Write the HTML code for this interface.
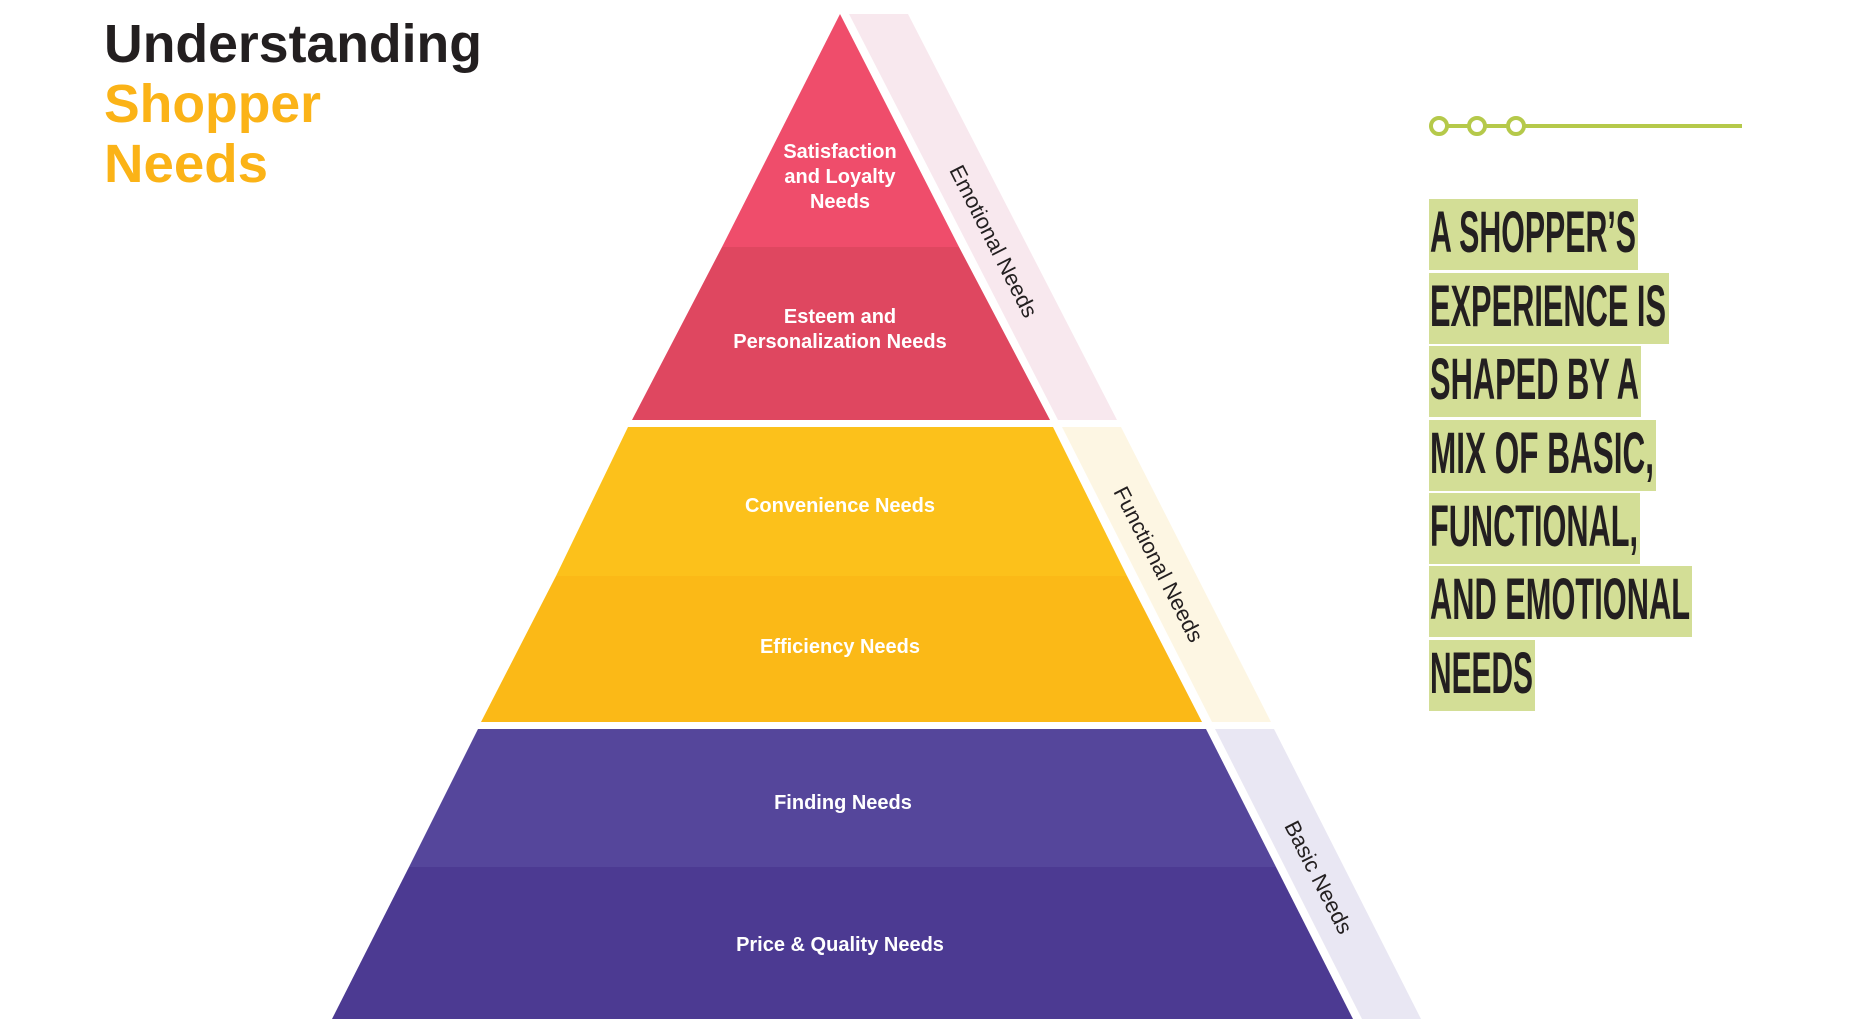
<!DOCTYPE html>
<html><head><meta charset="utf-8"><style>
html,body{margin:0;padding:0;background:#fff;width:1858px;height:1030px;overflow:hidden}
svg{display:block}
</style></head><body>
<svg width="1858" height="1030" viewBox="0 0 1858 1030" xmlns="http://www.w3.org/2000/svg" font-family="'Liberation Sans', sans-serif">
<text x="104" y="62" font-size="54" font-weight="bold" fill="#231f20" textLength="378" lengthAdjust="spacingAndGlyphs">Understanding</text>
<text x="104" y="122" font-size="54" font-weight="bold" fill="#fbb317" textLength="217" lengthAdjust="spacingAndGlyphs">Shopper</text>
<text x="104" y="182" font-size="54" font-weight="bold" fill="#fbb317" textLength="164" lengthAdjust="spacingAndGlyphs">Needs</text>

<polygon points="840,14 959,247 722,247" fill="#ef4d6b"/>
<polygon points="722,247 959,247 1050,420 632,420" fill="#df4760"/>
<polygon points="628,427 1053,427 1127,576 556,576" fill="#fcc11b"/>
<polygon points="556,576 1127,576 1202,722 481,722" fill="#fbb917"/>
<polygon points="478,729 1206,729 1276,867 409,867" fill="#55469b"/>
<polygon points="409,867 1276,867 1353,1019 332,1019" fill="#4c3a92"/>

<polygon points="849,14 908,14 1117,420 1058,420" fill="#f8e8ee"/>
<polygon points="1062,427 1121,427 1271,722 1212,722" fill="#fdf6e3"/>
<polygon points="1215,729 1274,729 1421,1019 1362,1019" fill="#e9e7f3"/>

<g fill="#fff" font-size="20" font-weight="bold" text-anchor="middle">
<text x="840" y="158">Satisfaction</text>
<text x="840" y="183">and Loyalty</text>
<text x="840" y="208">Needs</text>
<text x="840" y="323">Esteem and</text>
<text x="840" y="348">Personalization Needs</text>
<text x="840" y="512">Convenience Needs</text>
<text x="840" y="653">Efficiency Needs</text>
<text x="843" y="809">Finding Needs</text>
<text x="840" y="951">Price &amp; Quality Needs</text>
</g>

<g fill="#231f20" font-size="22" text-anchor="middle">
<text transform="translate(994,241) rotate(63)" y="8">Emotional Needs</text>
<text transform="translate(1159,564) rotate(63)" y="8">Functional Needs</text>
<text transform="translate(1319,877) rotate(63)" y="8">Basic Needs</text>
</g>

<g stroke="#b5c94a" stroke-width="4" fill="#fff">
<line x1="1447" y1="126" x2="1742" y2="126"/>
<circle cx="1439" cy="126" r="8"/>
<circle cx="1477" cy="126" r="8"/>
<circle cx="1516" cy="126" r="8"/>
</g>

<g fill="#d3de96">
<rect x="1429" y="199" width="209" height="71"/>
<rect x="1429" y="273" width="240" height="71"/>
<rect x="1429" y="346" width="212" height="71"/>
<rect x="1429" y="420" width="227" height="71"/>
<rect x="1429" y="493" width="211" height="71"/>
<rect x="1429" y="566" width="263" height="71"/>
<rect x="1429" y="640" width="106" height="71"/>
</g>
<g fill="#231f20" font-size="58" font-weight="bold">
<text x="1430" y="252" textLength="206" lengthAdjust="spacingAndGlyphs">A SHOPPER’S</text>
<text x="1430" y="326" textLength="236" lengthAdjust="spacingAndGlyphs">EXPERIENCE IS</text>
<text x="1430" y="399" textLength="209" lengthAdjust="spacingAndGlyphs">SHAPED BY A</text>
<text x="1430" y="473" textLength="224" lengthAdjust="spacingAndGlyphs">MIX OF BASIC,</text>
<text x="1430" y="546" textLength="208" lengthAdjust="spacingAndGlyphs">FUNCTIONAL,</text>
<text x="1430" y="619" textLength="260" lengthAdjust="spacingAndGlyphs">AND EMOTIONAL</text>
<text x="1430" y="693" textLength="103" lengthAdjust="spacingAndGlyphs">NEEDS</text>
</g>
</svg>
</body></html>
